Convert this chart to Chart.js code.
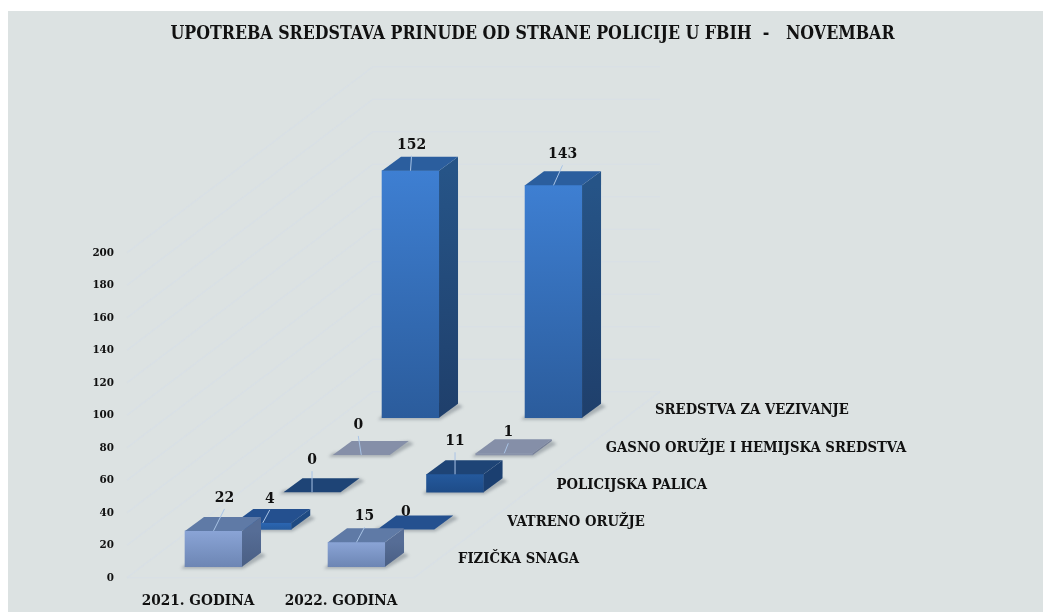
<!DOCTYPE html>
<html lang="sr">
<head>
    <meta charset="UTF-8">
    <title>Upotreba sredstava prinude</title>
    <script src="https://cdn.jsdelivr.net/npm/chart.js@4"></script>
    <style>
        html, body { margin: 0; padding: 0; background: #fff; overflow: hidden; }
        .panel { position: absolute; left: 8px; top: 11px; right: 0; bottom: 0; background: #dce2e2; }
        #chart { position: absolute; left: 0; top: 0; display: block; }
    </style>
</head>
<body>
    <div class="panel"></div>
    <canvas id="chart" width="1043" height="612"></canvas>
    <script>
        const titleText = 'UPOTREBA SREDSTAVA PRINUDE OD STRANE POLICIJE U FBIH  -   NOVEMBAR';
        const years = ['2021. GODINA', '2022. GODINA'];
        const seriesNames = ['FIZIČKA SNAGA', 'VATRENO ORUŽJE', 'POLICIJSKA PALICA', 'GASNO ORUŽJE I HEMIJSKA SREDSTVA', 'SREDSTVA ZA VEZIVANJE'];
        const fizicka = [22, 15];
        const vatreno = [4, 0];
        const palica = [0, 11];
        const gasno = [0, 1];
        const vezivanje = [152, 143];
        const seriesValues = [fizicka, vatreno, palica, gasno, vezivanje];
        const yTicks = [0, 20, 40, 60, 80, 100, 120, 140, 160, 180, 200];

        // looks of each depth row: front top, front bottom, top face, side top, side bottom
        const rowColors = [
            ['#8aa4d6', '#6d86b4', '#5f7aa6', '#566d96', '#4a5f84'],
            ['#2b66b2', '#275ca0', '#24508f', '#1f4a82', '#1f4a82'],
            ['#24599d', '#1e4c88', '#1e4476', '#1b3f70', '#1b3f70'],
            ['#8f99b0', '#8790a8', '#858fa8', '#757f98', '#757f98'],
            ['#3e7fd2', '#2b5c9c', '#2b5e9e', '#265487', '#1f3f6b']
        ];
        // label offset from the top centre of each bar, per row and year
        const labelShift = [
            [[11, -33], [8, -26]],
            [[7, -24], [0, -17]],
            [[0, -32], [0, -33]],
            [[-3, -30], [4, -21]],
            [[1, -26], [9, -31]]
        ];

        const FONT = '"DejaVu Serif Condensed", "DejaVu Serif", serif';
        const rowStepX = 0.3444;   // x units per depth row
        const rowStepY = 22.92;    // y units per depth row
        const floorY = 6.8;        // front row stands this far above the 0 tick
        const depthX = 19, depthY = 14;
        const halfBar = 28.5;

        const datasets = seriesValues.map((values, row) => ({
            label: seriesNames[row],
            data: values.map((v, i) => {
                const base = floorY + row * rowStepY;
                return { x: i + row * rowStepX, y: [base, base + v] };
            }),
            backgroundColor: function(c) {
                if (c.raw === undefined || !c.chart.chartArea) return rowColors[row][0];
                const s = c.chart.scales.y;
                const g = c.chart.ctx.createLinearGradient(0, s.getPixelForValue(c.raw.y[1]), 0, s.getPixelForValue(c.raw.y[0]));
                g.addColorStop(0, rowColors[row][0]);
                g.addColorStop(1, rowColors[row][1]);
                return g;
            },
            borderWidth: 0,
            borderSkipped: false,
            barThickness: 57,
            grouped: false
        }));

        function poly(ctx, pts) {
            ctx.beginPath();
            pts.forEach((p, i) => i ? ctx.lineTo(p[0], p[1]) : ctx.moveTo(p[0], p[1]));
            ctx.closePath();
        }

        const depthBars = {
            id: 'depthBars',
            beforeDatasetsDraw(chart) {
                // faint back wall and floor lines
                const ctx = chart.ctx, y = chart.scales.y;
                const left = y.right + 11, wallX = 246, wallY = 186, wallEnd = 660;
                ctx.save();
                ctx.strokeStyle = 'rgba(212,221,233,0.45)';
                ctx.lineWidth = 1.5;
                y.ticks.forEach(t => {
                    const py = y.getPixelForValue(t.value);
                    ctx.beginPath();
                    ctx.moveTo(left, py);
                    ctx.lineTo(left + wallX, py - wallY);
                    ctx.lineTo(wallEnd, py - wallY);
                    ctx.stroke();
                });
                const py0 = y.getPixelForValue(0);
                ctx.beginPath();
                ctx.moveTo(left, py0);
                ctx.lineTo(wallEnd - wallX, py0);
                ctx.lineTo(wallEnd, py0 - wallY);
                ctx.stroke();
                ctx.restore();
            },
            beforeDatasetDraw(chart, args) {
                // soft shadow under the bars
                const ctx = chart.ctx;
                chart.getDatasetMeta(args.index).data.forEach(bar => {
                    const l = bar.x - halfBar, r = bar.x + halfBar, b = bar.base;
                    ctx.save();
                    ctx.filter = 'blur(1.5px)';
                    ctx.fillStyle = 'rgba(90,100,110,0.4)';
                    poly(ctx, [[l - 4, b + 2], [r + 1, b + 2], [r + depthX + 5, b - depthY + 3], [r + depthX, b - depthY], [l, b - 2]]);
                    ctx.fill();
                    ctx.restore();
                });
            },
            afterDatasetDraw(chart, args) {
                const ctx = chart.ctx, row = args.index, colors = rowColors[row];
                chart.getDatasetMeta(row).data.forEach(bar => {
                    const l = bar.x - halfBar, r = bar.x + halfBar, t = bar.y, b = bar.base;
                    if (b - t > 0.5) {
                        const g = ctx.createLinearGradient(0, t, 0, b);
                        g.addColorStop(0, colors[3]);
                        g.addColorStop(1, colors[4]);
                        ctx.fillStyle = g;
                        poly(ctx, [[r, t], [r + depthX, t - depthY], [r + depthX, b - depthY], [r, b]]);
                        ctx.fill();
                    }
                    ctx.fillStyle = colors[2];
                    poly(ctx, [[l, t], [l + depthX, t - depthY], [r + depthX, t - depthY], [r, t]]);
                    ctx.fill();
                });
            },
            afterDatasetsDraw(chart) {
                const ctx = chart.ctx, xs = chart.scales.x, ys = chart.scales.y;
                ctx.save();
                ctx.textBaseline = 'middle';
                chart.data.datasets.forEach((ds, row) => {
                    const meta = chart.getDatasetMeta(row);
                    meta.data.forEach((bar, i) => {
                        const s = labelShift[row][i];
                        const v = seriesValues[row][i];
                        // leader line, hidden behind the front bar for that one zero
                        if (!(row === 1 && i === 1)) {
                            ctx.strokeStyle = '#a9c4e6';
                            ctx.lineWidth = 1;
                            ctx.beginPath();
                            ctx.moveTo(bar.x, bar.y);
                            ctx.lineTo(bar.x + s[0], bar.y + s[1] + 11);
                            ctx.stroke();
                        }
                        ctx.fillStyle = '#111';
                        ctx.textAlign = 'center';
                        ctx.font = 'bold 15.5px ' + FONT;
                        ctx.fillText(String(v), bar.x + s[0], bar.y + s[1]);
                    });
                    // row names run along the right side of the floor
                    ctx.fillStyle = '#111';
                    ctx.textAlign = 'left';
                    ctx.font = 'bold 14.7px ' + FONT;
                    const nameX = xs.getPixelForValue(1 + row * rowStepX) + 101.5;
                    const nameY = ys.getPixelForValue(floorY + row * rowStepY) - 7;
                    ctx.fillText(ds.label, nameX, nameY);
                });
                ctx.restore();
            }
        };

        new Chart(document.getElementById('chart'), {
            type: 'bar',
            data: { datasets: datasets },
            plugins: [depthBars],
            options: {
                responsive: false,
                animation: false,
                layout: { padding: { left: 22, right: 0, top: 0, bottom: 0 } },
                plugins: {
                    legend: { display: false },
                    tooltip: { enabled: false },
                    title: {
                        display: true,
                        text: titleText,
                        color: '#111',
                        font: { family: FONT, size: 17.6, weight: 'bold', lineHeight: 1.25 },
                        padding: { top: 23.5, bottom: 12.2 }
                    }
                },
                scales: {
                    x: {
                        type: 'linear',
                        offset: false,
                        min: -0.6818,
                        max: 5.8,
                        grid: { display: false, offset: false },
                        border: { display: false },
                        afterBuildTicks: axis => { axis.ticks = years.map((_, i) => ({ value: i })); },
                        afterFit: axis => { axis.height = 34.3; },
                        ticks: {
                            callback: value => years[value],
                            color: '#111',
                            font: { family: FONT, size: 15.2, weight: 'bold' },
                            autoSkip: false,
                            maxRotation: 0,
                            labelOffset: -15.5,
                            padding: 6
                        }
                    },
                    y: {
                        min: 0,
                        max: 320,
                        grid: { display: false, drawTicks: false },
                        border: { display: false },
                        afterBuildTicks: axis => { axis.ticks = yTicks.map(v => ({ value: v })); },
                        afterFit: axis => { axis.width = 94; },
                        ticks: {
                            color: '#111',
                            font: { family: FONT, size: 11.5, weight: 'bold' },
                            padding: 2
                        }
                    }
                }
            }
        });
    </script>
</body>
</html>
